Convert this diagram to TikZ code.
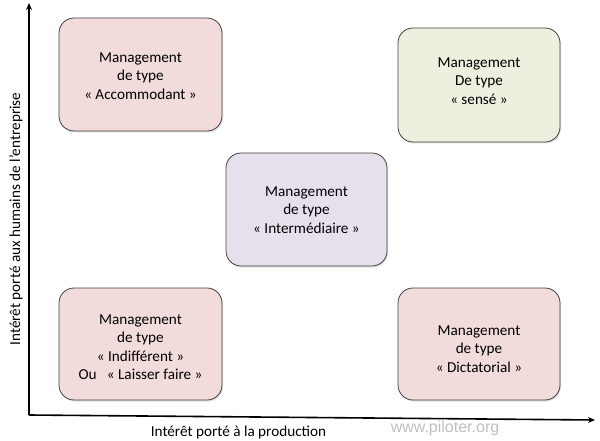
\documentclass[tikz,border=0pt]{standalone}
\usepackage{fontspec}
\setmainfont{Carlito}
\newfontfamily\wmfont{Liberation Sans}
\usetikzlibrary{arrows.meta,shadows}
\begin{document}
\begin{tikzpicture}[x=1pt,y=-1pt,
  mbox/.style={draw=black!75, line width=0.8pt, rounded corners=15pt,
    drop shadow={shadow xshift=1pt,shadow yshift=-1.5pt,opacity=0.25}},
  mtext/.style={align=center, font=\fontsize{15.2}{18.5}\selectfont},
  axis/.style={line width=1.6pt,-{Stealth[length=7pt,width=6pt]}},
  axlabel/.style={font=\fontsize{15.2}{17}\selectfont}]
\useasboundingbox (0,0) rectangle (600,441);
\coordinate (O) at (29,415);
\coordinate (ytop) at (29,3);
\coordinate (xend) at (595,420);
\draw[axis] (O) -- (ytop);
\draw[axis] (O) -- (xend);
\path[mbox, fill={rgb,255:red,242;green,220;blue,219}] (59,18) rectangle (222,131);
\node[mtext] (acc) at (140.5,76) {Management\\de type\\« Accommodant »};
\path[mbox, fill={rgb,255:red,235;green,241;blue,222}] (398,28) rectangle (560,142);
\node[mtext] (sen) at (479,81) {Management\\De type\\« sensé »};
\path[mbox, fill={rgb,255:red,230;green,224;blue,236}] (226,153) rectangle (387,266);
\node[mtext] (int) at (306.5,210) {Management\\de type\\« Intermédiaire »};
\path[mbox, fill={rgb,255:red,242;green,220;blue,219}] (59,288) rectangle (222,400);
\node[mtext] (ind) at (140.5,347) {Management\\de type\\« Indifférent »\\Ou~~ « Laisser faire »};
\path[mbox, fill={rgb,255:red,242;green,220;blue,219}] (398,288) rectangle (560,400);
\node[mtext] (dic) at (479,349) {Management\\de type\\« Dictatorial »};
\node[axlabel] (xl) at (238.5,432) {Intérêt porté à la production};
\node[axlabel, rotate=90] (yl) at (16,219) {Intérêt porté aux humains de l’entreprise};
\node[font=\wmfont\fontsize{16}{18}\selectfont, text=black!25] (wm) at (445,428) {www.piloter.org};
\end{tikzpicture}
\end{document}
